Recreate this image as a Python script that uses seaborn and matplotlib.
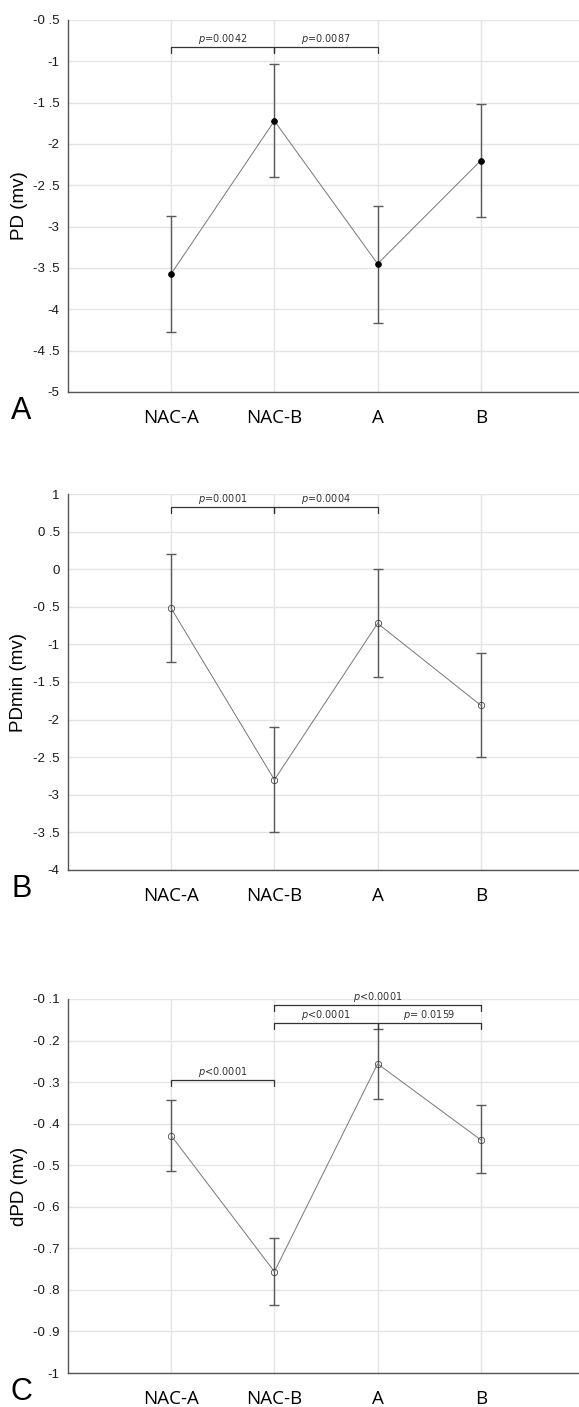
import numpy as np
import pandas as pd
import matplotlib
matplotlib.use("Agg")
import matplotlib.pyplot as plt
import seaborn as sns

# ---------------- data ----------------
categories = ["NAC-A", "NAC-B", "A", "B"]

pd_mean = [-3.57, -1.72, -3.45, -2.20]
pd_upper = [-2.87, -1.03, -2.75, -1.52]
pd_lower = [-4.28, -2.40, -4.16, -2.88]

pdmin_mean = [-0.52, -2.80, -0.72, -1.81]
pdmin_upper = [0.20, -2.10, 0.00, -1.11]
pdmin_lower = [-1.24, -3.50, -1.44, -2.50]

dpd_mean = [-0.429, -0.756, -0.256, -0.439]
dpd_upper = [-0.344, -0.675, -0.172, -0.356]
dpd_lower = [-0.513, -0.837, -0.341, -0.519]

pd_ticks = [-0.5, -1, -1.5, -2, -2.5, -3, -3.5, -4, -4.5, -5]
pd_ticklabels = ["-0 .5", "-1", "-1 .5", "-2", "-2 .5", "-3", "-3 .5", "-4", "-4 .5", "-5"]
pdmin_ticks = [1, 0.5, 0, -0.5, -1, -1.5, -2, -2.5, -3, -3.5, -4]
pdmin_ticklabels = ["1", "0 .5", "0", "-0 .5", "-1", "-1 .5", "-2", "-2 .5", "-3", "-3 .5", "-4"]
dpd_ticks = [-0.1, -0.2, -0.3, -0.4, -0.5, -0.6, -0.7, -0.8, -0.9, -1]
dpd_ticklabels = ["-0 .1", "-0 .2", "-0 .3", "-0 .4", "-0 .5", "-0 .6", "-0 .7", "-0 .8", "-0 .9", "-1"]

# significance brackets: (start cat, end cat, bracket y, p value, operator)
pd_brackets = [("NAC-A", "NAC-B", -0.825, "0.0042", "="),
               ("NAC-B", "A", -0.825, "0.0087", "=")]
pdmin_brackets = [("NAC-A", "NAC-B", 0.83, "0.0001", "="),
                  ("NAC-B", "A", 0.83, "0.0004", "=")]
dpd_brackets = [("NAC-A", "NAC-B", -0.2955, "0.0001", "<"),
                ("NAC-B", "B", -0.114, "0.0001", "<"),
                ("NAC-B", "A", -0.157, "0.0001", "<"),
                ("A", "B", -0.157, "0.0159", "= ")]

# ---------------- style ----------------
sns.set_theme(style="white")
plt.rcParams["font.family"] = ["Liberation Sans", "DejaVu Sans"]
plt.rcParams["mathtext.fontset"] = "dejavusans"

W, H = 579, 1407
fig = plt.figure(figsize=(W / 100, H / 100), dpi=100)
fig.patch.set_facecolor("white")

GRID = "#e4e4e4"
SPINE = "#555555"
AX_LEFT, AX_W = 68, 516


def make_panel(top, bottom, means, upper, lower, ticks, ticklabels, ylim,
               ylabel, letter, filled, brackets, bracket_drop):
    ax = fig.add_axes([AX_LEFT / W, 1 - bottom / H, AX_W / W, (bottom - top) / H])
    ax.set_facecolor("white")
    df = pd.DataFrame({"cat": categories, "val": means})
    if filled:
        mk = dict(markerfacecolor="black", markeredgecolor="black")
    else:
        mk = dict(markerfacecolor="none", markeredgecolor="#333333")
    sns.pointplot(data=df, x="cat", y="val", order=categories, errorbar=None,
                  color="#777777", markers="o", linestyles="-",
                  markersize=4.2 if filled else 4.6, linewidth=0.7,
                  ax=ax, zorder=4, **mk)
    pos = np.arange(len(categories))
    m = np.array(means)
    yerr = np.vstack([m - np.array(lower), np.array(upper) - m])
    ax.errorbar(pos, m, yerr=yerr, fmt="none", ecolor="#5a5a5a",
                elinewidth=1.0, capsize=3.3, capthick=1.0, zorder=3)

    ax.set_xlim(-1, len(categories))
    ax.set_ylim(*ylim)
    ax.set_yticks(ticks)
    ax.set_yticklabels(ticklabels, fontsize=9.5, color="#1a1a1a")
    ax.set_xticks(pos)
    ax.set_xticklabels(categories, fontsize=13.5, family=["Open Sans", "DejaVu Sans"],
                       color="black")
    ax.tick_params(axis="y", length=0, pad=6)
    ax.tick_params(axis="x", length=0, pad=12)
    ax.set_xlabel("")
    ax.set_ylabel(ylabel, fontsize=13.5, color="black", va="center")
    ax.yaxis.set_label_coords((19 - AX_LEFT) / AX_W, 0.5)
    ax.grid(True, color=GRID, linewidth=1.0)
    ax.set_axisbelow(True)
    for s in ["top", "right"]:
        ax.spines[s].set_visible(False)
    for s in ["left", "bottom"]:
        ax.spines[s].set_color(SPINE)
        ax.spines[s].set_linewidth(1.0)

    for a, b, y, txt, op in brackets:
        x0, x1 = categories.index(a), categories.index(b)
        ax.plot([x0, x0, x1, x1], [y - bracket_drop, y, y, y - bracket_drop],
                color="#333333", lw=0.9, zorder=5, clip_on=False)
        ax.text((x0 + x1) / 2, y + bracket_drop * 0.15, "$p$" + op + txt,
                ha="center", va="bottom", fontsize=7, color="#333333",
                family=["DejaVu Sans"], zorder=6)

    fig.text(11 / W, 1 - (bottom + 19) / H, letter, fontsize=22,
             ha="left", va="center", color="black")
    return ax


make_panel(20, 392, pd_mean, pd_upper, pd_lower, pd_ticks, pd_ticklabels,
           (-5, -0.5), "PD (mv)", "A", True, pd_brackets, 0.075)
make_panel(494, 870, pdmin_mean, pdmin_upper, pdmin_lower, pdmin_ticks,
           pdmin_ticklabels, (-4, 1), "PDmin (mv)", "B", False,
           pdmin_brackets, 0.085)
make_panel(999, 1373, dpd_mean, dpd_upper, dpd_lower, dpd_ticks,
           dpd_ticklabels, (-1, -0.1), "dPD (mv)", "C", False,
           dpd_brackets, 0.015)

fig.savefig("out.png", dpi=100, facecolor="white")
